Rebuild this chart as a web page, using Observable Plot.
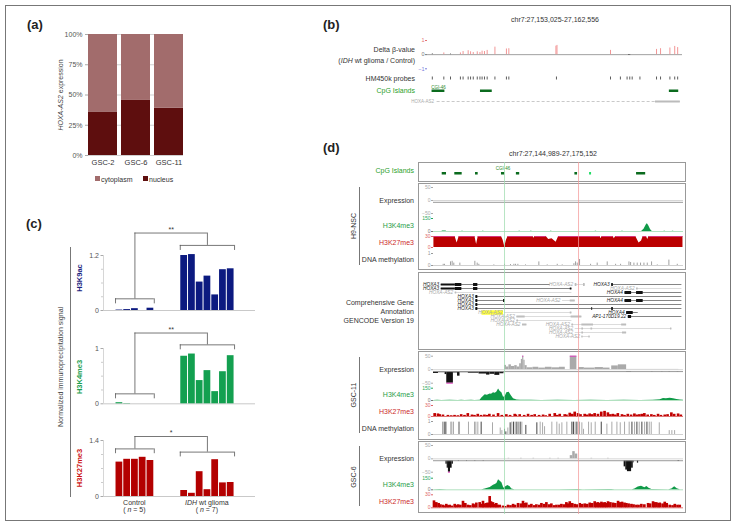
<!DOCTYPE html>
<html><head><meta charset="utf-8">
<script src="https://cdn.jsdelivr.net/npm/d3@7"></script>
<script src="https://cdn.jsdelivr.net/npm/@observablehq/plot@0.6"></script>
<style>
body{margin:0;background:#fff;font-family:"Liberation Sans",Arial,Helvetica,sans-serif;}
#fig{position:relative;width:737px;height:527px;overflow:hidden;background:#fff;}
</style></head><body><div id="fig"></div>
<script>
// ---------------- DATA ----------------
// (a) HOXA-AS2 expression fractions (%)
const aSamples = ["GSC-2", "GSC-6", "GSC-11"];
const aNucleus = [36, 45.5, 39];
const aCytoplasm = [64, 54.5, 61];
const aTicks = [0, 25, 50, 75, 100];

// (c) normalized immunoprecipitation signal
const h3k9acControl = [0.01, 0.02, 0.04, 0, 0.05];
const h3k9acIDH = [1.2, 1.22, 0.62, 0.75, 0.34, 0.89, 0.91];
const h3k4me3Control = [0.02, 0.005, 0, 0, 0];
const h3k4me3IDH = [0.86, 0.9, 0.42, 0.6, 0.22, 0.58, 0.87];
const h3k27me3Control = [0.86, 0.93, 0.93, 0.98, 0.9];
const h3k27me3IDH = [0.15, 0.08, 0.62, 0.17, 0.92, 0.34, 0.35];
// bracket levels [control, IDH, top, drop]
const h3k9acBrackets = [0.255, 1.42, 1.69, 0.11];
const h3k4me3Brackets = [0.18, 1.066, 1.28, 0.09];
const h3k27me3Brackets = [1.19, 1.11, 1.5, 0.12];
const cStars = ["**", "**", "*"];
const cGroups = ["Control", "IDH wt glioma"];

// (b) chr7:27,153,025-27,162,556 (positions in kb from window start)
const bSpan = 9.531;
const betaPos = [0.18,0.61,0.86,1.23,1.33,1.52,1.61,1.71,1.86,1.96,2.04,2.13,2.23,2.52,2.95,3.04,4.80,4.84,6.84,7.52,7.56,8.56,8.71,9.06,9.24,9.35];
const betaVal = [0.05,0.12,0.04,0.12,0.22,0.28,0.2,0.15,0.2,0.15,0.25,0.22,0.3,0.53,0.4,0.42,0.6,0.65,0.3,-0.05,-0.04,0.37,0.42,0.47,0.58,0.5];
const probePos = [0.18,0.61,0.86,1.23,1.33,1.52,1.61,1.71,1.86,1.96,2.04,2.13,2.23,2.52,2.95,3.04,4.82,6.84,7.21,7.46,7.56,7.65,7.94,8.56,8.71,9.06,9.24,9.35];
const bCpG = [[0.17, 0.65], [1.98, 2.42], [9.04, 9.39]];
const bGene = [0.36, 9.45];
const bGeneExon = [8.52, 9.45];

// (d) chr7:27,144,989-27,175,152 (positions in kb from window start)
const dSpan = 30.163;
const dMarkers = [8.57, 17.5];
const dCpG = [[1.05,1.57,0],[2.57,3.46,0],[5.07,5.39,0],[8.2,8.6,0],[10.0,10.4,0],[17.06,17.38,0],[18.83,19.07,1],[24.5,25.6,0]];
// H9-NSC
const h9K4 = [[0,0],[1.0,0],[1.1,6],[1.5,6],[1.6,0],[25.1,0],[25.4,25],[25.7,80],[25.8,90],[25.95,70],[26.2,20],[26.4,0],[30.16,0]];
const h9K4Ticks = [3.5,6.0,10.4,11.8,14.2,19.6,22.8,27.9,28.9];
const h9K27 = [[0.05,30],[2.6,30],[2.85,12],[3.1,30],[5.0,30],[5.2,8],[5.4,30],[8.2,30],[8.4,20],[8.6,2],[8.8,20],[9.0,30],[12.0,30],[12.1,25],[12.25,30],[13.6,30],[13.9,22],[14.3,24],[14.8,14],[15.1,30],[20.1,30],[20.2,24],[20.35,30],[21.7,30],[21.8,24],[22.0,30],[24.4,30],[24.8,12],[25.1,18],[25.3,30],[25.7,30],[25.85,22],[26.0,30],[30.1,30]];
const h9Meth = [[1.17,0.1],[1.33,0.1],[2.05,0.3],[2.25,0.35],[2.45,0.2],[3.18,0.2],[4.99,0.35],[5.27,0.2],[5.47,0.1],[7.28,0.05],[8.57,0.1],[9.29,0.08],[9.7,0.1],[9.9,0.1],[10.18,0.1],[11.1,0.05],[12.71,0.3],[13.72,0.05],[14.93,0.1],[15.53,0.05],[16.94,0.15],[17.14,0.3],[17.34,0.2],[17.62,0.5],[18.95,0.1],[19.75,0.2],[20.96,0.3],[21.97,0.1],[22.57,0.1],[23.58,0.3],[23.78,0.25],[24.18,0.2],[24.58,0.2],[24.98,0.2],[25.39,0.2],[25.79,0.2],[26.31,0.3],[27.0,0.05],[28.4,0.45],[29.41,0.1]];
// GSC-11
const gsc11ExpPos = [[8.57,8.8,16],[8.8,9.1,10],[9.1,9.4,18],[9.4,9.8,12],[9.8,10.1,15],[10.1,10.4,10],[10.4,10.6,22],[10.6,10.75,38],[10.75,10.9,50],[10.9,11.05,35],[11.05,11.3,15],[11.3,12.0,7],[12.0,12.7,9],[12.7,13.5,6],[13.5,14.3,9],[14.3,15.2,7],[15.2,15.9,9],[16.5,17.3,50],[17.5,18.2,8],[18.2,19.5,6],[19.5,20.5,8],[20.5,21.3,6],[21.5,22.3,14],[22.3,23.3,18],[23.3,29.6,1]];
const gsc11ExpNeg = [[0,0.6,-14],[0.6,1.4,-11],[1.4,1.6,-18],[1.6,2.4,-50],[2.4,2.9,-12],[2.9,3.2,-24],[3.2,4.2,-11],[4.2,5.5,-13],[5.5,6.4,-16],[6.4,6.8,-20],[6.8,7.4,-17],[7.4,8.0,-21],[8.0,8.5,-15],[23.3,23.9,-10],[26.3,26.5,-9],[27.5,27.7,-9],[28.4,28.6,-9],[29.4,29.6,-9]];
const gsc11K4 = [[0,1],[0.5,3],[1.0,1],[2.0,2],[3.0,1],[3.4,4],[3.8,1],[4.6,3],[5.0,1],[5.63,2],[5.83,30],[6.24,70],[6.5,65],[6.84,80],[7.0,75],[7.24,95],[7.45,88],[7.65,105],[7.85,140],[8.05,110],[8.25,95],[8.45,40],[8.65,50],[8.85,95],[9.13,100],[9.37,60],[9.65,20],[10.06,5],[10.5,2],[11.2,4],[11.8,2],[13.0,1],[15.0,2],[17.0,1],[19.0,2],[21.0,1],[23.0,2],[25.0,1],[26.5,3],[27.35,10],[27.75,25],[28.1,22],[28.55,28],[28.96,20],[29.37,12],[29.77,5],[30.16,2]];
const gsc11K27 = [[0.2,8],[0.6,7],[0.8,5],[1.2,4],[1.8,3],[2.2,2],[2.6,3],[3.0,2],[3.4,5],[3.8,3],[4.2,8],[4.7,4],[5.0,3],[5.4,6],[5.8,3],[6.2,4],[6.5,3],[6.8,6],[7.3,4],[7.85,8],[8.3,3],[8.85,5],[9.3,3],[9.86,6],[10.0,4],[10.46,5],[11.0,3],[11.47,6],[11.9,3],[12.27,5],[12.8,3],[13.28,4],[13.6,2],[14.08,6],[14.69,8],[15.0,3],[15.29,6],[15.89,5],[16.1,4],[16.5,9],[16.8,6],[17.1,12],[17.5,8],[17.8,5],[18.3,6],[18.6,4],[18.9,7],[19.2,5],[19.5,8],[19.9,6],[20.3,12],[20.7,14],[21.1,10],[21.4,5],[21.7,6],[22.0,4],[22.3,8],[22.8,5],[23.1,3],[23.5,6],[23.9,4],[24.3,7],[24.6,4],[24.9,5],[25.2,6],[25.5,8],[25.9,4],[26.35,5],[26.7,3],[27.15,6],[27.5,3],[27.96,4],[28.3,5],[28.76,10],[29.1,6],[29.57,7],[29.9,4]];
const gsc11Meth = [[1.09,0.95,0],[1.29,0.95,1],[1.49,0.95,1],[2.09,0.95,0],[2.21,0.95,0],[2.41,0.95,0],[3.02,0.95,0],[3.14,0.95,0],[4.22,0.95,0],[4.95,0.95,0],[5.11,0.95,0],[5.35,0.95,0],[5.75,0.95,1],[7.12,0.9,0],[8.05,0.5,0],[8.25,0.3,0],[8.57,0.4,1],[8.73,0.2,1],[8.97,0.5,0],[9.25,0.9,1],[9.45,0.95,0],[9.66,0.95,1],[9.86,0.95,0],[10.06,0.95,1],[10.26,0.95,0],[10.46,0.95,1],[10.66,0.95,0],[11.14,0.7,1],[12.47,0.9,1],[12.87,0.95,0],[13.16,0.9,0],[13.4,0.6,0],[14.28,0.95,0],[14.88,0.95,0],[15.17,0.8,0],[15.49,0.9,0],[16.09,0.95,0],[16.7,0.95,1],[16.9,0.95,1],[17.1,0.95,0],[17.3,0.95,1],[17.62,0.95,0],[17.9,0.9,0],[18.1,0.4,0],[18.71,0.95,0],[19.03,0.9,0],[19.51,0.95,0],[20.24,0.95,1],[20.92,0.8,0],[21.52,0.95,0],[22.13,0.95,0],[22.53,0.9,0],[23.05,0.95,0],[23.61,0.95,0],[23.94,0.95,1],[24.26,0.95,0],[24.54,0.95,1],[24.82,0.95,0],[25.14,0.95,1],[25.47,0.95,0],[25.75,0.95,1],[26.03,0.95,0],[26.27,0.95,0],[27.24,0.9,0],[28.44,0.3,0],[28.76,0.3,0],[29.09,0.3,0]];
// GSC-6
const gsc6ExpPos = [[9.0,9.2,2],[10.5,10.7,2],[12.0,12.2,2],[14.0,14.2,2],[15.0,15.2,2],[16.5,16.8,12],[16.8,17.1,27],[17.1,17.4,18],[19.0,19.2,2],[21.0,21.2,2]];
const gsc6ExpNeg = [[1.5,1.65,-20],[1.65,1.8,-35],[1.8,2.05,-50],[2.05,2.25,-35],[2.25,2.4,-20],[3.0,3.1,-10],[4.0,4.1,-10],[5.0,5.1,-10],[6.0,6.1,-10],[23.0,23.2,-30],[23.2,23.4,-42],[23.4,23.9,-48],[23.9,24.1,-35],[24.1,24.2,-15],[24.6,24.75,-16],[29.5,29.7,-10]];
const gsc6K4 = [[0,2],[0.8,3],[1.6,1],[3,2],[5,1],[5.83,2],[6.24,10],[6.84,30],[7.24,60],[7.45,70],[7.65,80],[7.85,130],[8.05,110],[8.25,90],[8.49,20],[8.73,40],[8.97,55],[9.25,40],[9.45,10],[9.8,2],[12,1],[15,1],[17.5,5],[18,1],[21.1,3],[21.5,5],[21.9,2],[24.0,2],[24.3,10],[24.7,35],[25.1,45],[25.5,25],[25.75,42],[26.0,20],[26.35,3],[28.4,2],[28.76,10],[29.1,38],[29.4,15],[29.77,2],[30.16,1]];
const gsc6K27 = [[0.12,16],[0.4,12],[0.68,10],[0.9,7],[1.21,6],[1.4,4],[1.61,8],[1.8,5],[2.01,6],[2.3,4],[2.62,8],[2.8,5],[3.02,7],[3.3,6],[3.62,15],[3.9,10],[4.22,6],[4.5,5],[4.83,9],[5.0,7],[5.23,11],[5.63,12],[5.9,8],[6.03,15],[6.2,9],[6.44,10],[6.6,11],[6.84,26],[7.0,14],[7.24,12],[7.45,8],[7.64,10],[7.8,6],[8.05,6],[8.45,4],[8.7,3],[9.05,6],[9.35,5],[9.66,8],[9.9,6],[10.26,10],[10.6,9],[10.86,15],[11.0,10],[11.26,11],[11.6,6],[11.87,8],[12.2,5],[12.47,7],[12.8,6],[13.08,10],[13.4,8],[13.68,12],[14.0,7],[14.28,9],[14.6,5],[14.89,6],[15.2,6],[15.49,8],[15.8,7],[16.09,12],[16.3,9],[16.5,14],[16.8,10],[17.1,8],[17.4,7],[17.7,10],[18.0,8],[18.31,9],[18.6,8],[18.91,11],[19.2,10],[19.51,14],[19.7,11],[19.91,12],[20.1,10],[20.32,13],[20.5,11],[20.72,12],[20.9,10],[21.12,14],[21.4,12],[21.72,11],[22.0,10],[22.33,15],[22.6,12],[22.81,13],[23.1,11],[23.33,10],[23.6,9],[23.94,8],[24.2,7],[24.54,6],[24.8,6],[25.14,8],[25.5,7],[25.95,10],[26.2,9],[26.55,14],[26.7,12],[26.95,12],[27.2,10],[27.36,11],[27.7,9],[27.96,13],[28.2,10],[28.56,6],[28.9,5],[29.17,8],[29.5,6],[29.77,6]];
// GENCODE transcripts: [row, start, end, name, grey]
const transcripts = [
 [0,0.93,14.08,"HOXA3",0],[0,17.1,18.3,"HOXA-AS2",1],[0,21.5,29.97,"HOXA3",0],
 [1,0.93,16.7,"HOXA3",0],[1,24.5,29.97,"HOXA-AS2",1],
 [2,2.62,16.7,"HOXA-AS2",1],[2,23.1,29.97,"HOXA4",0],
 [3,5.11,29.97,"HOXA3",0],
 [4,5.11,8.57,"HOXA3",0],[4,15.57,17.1,"HOXA-AS2",1],[4,23.1,29.97,"HOXA4",0],
 [5,5.11,29.97,"HOXA3",0],
 [6,5.11,29.97,"HOXA3",0],
 [7,8.57,16.7,"HOXA-AS2",1],[7,23.3,24.7,"HOXA4",0],
 [8,10.06,17.9,"HOXA-AS2",1],[8,23.5,29.97,"AP1-170D19.22",0],
 [9,10.06,16.7,"HOXA-AS2",1],
 [10,10.74,11.27,"HOXA-AS2",1],[10,16.7,23.3,"HOXA-AS2",1],
 [11,17.1,28.76,"HOXA-AS2",1],
 [12,17.1,23.3,"HOXA-AS2",1],
 [13,17.9,18.9,"HOXA-AS2",1]
];
// exons: [row, start, end, coding, grey]
const exons = [
 [0,0.93,2.62,0,0],[0,2.62,3.42,1,0],[0,4.83,5.35,1,0],[0,17.1,17.3,1,1],[0,18.1,18.3,1,1],[0,21.5,21.7,1,0],
 [1,0.93,2.62,0,0],[1,2.62,3.42,1,0],[1,4.83,5.35,1,0],[1,16.5,16.7,0,0],[1,24.5,24.7,0,1],
 [2,2.62,2.8,0,1],[2,23.1,23.9,1,0],[2,24.5,25.3,1,0],
 [3,5.11,5.35,1,0],
 [4,5.11,5.35,1,0],[4,8.45,8.65,1,0],[4,16.5,17.1,0,1],[4,23.1,23.9,1,0],[4,24.5,25.3,1,0],
 [5,5.11,5.35,1,0],
 [6,5.11,5.35,1,0],[6,19.1,19.2,1,0],[6,21.5,21.7,1,0],
 [7,16.5,16.7,0,1],[7,23.3,24.1,1,0],
 [8,10.06,11.06,0,1],[8,16.6,17.9,0,1],[8,23.5,23.9,1,0],
 [9,10.06,10.26,0,1],
 [10,10.74,11.27,0,1],[10,16.7,16.9,0,1],[10,17.9,19.3,0,1],[10,22.7,23.3,0,1],
 [11,17.9,18.1,0,1],[11,19.0,19.2,0,1],[11,28.6,28.76,0,1],
 [12,17.9,18.1,0,1],[12,22.8,23.3,0,1],
 [13,17.9,18.05,0,1],[13,18.75,18.9,0,1]
];
const geneHighlight = [[7, 5.85, 8.45]];

// ---------------- HELPERS ----------------
const FONT = '"Liberation Sans", Arial, Helvetica, sans-serif';
const fig = document.getElementById("fig");
const base = {style: {fontFamily: FONT, background: "transparent", overflow: "visible"}};
function put(node, x, y) {
  node.style.position = "absolute"; node.style.left = x + "px"; node.style.top = y + "px";
  node.style.maxWidth = "none"; fig.appendChild(node); return node;
}
function label(html, x, y, o = {}) {
  const d = document.createElement("div");
  d.innerHTML = html;
  const s = d.style;
  s.position = "absolute"; s.left = x + "px"; s.top = y + "px"; s.whiteSpace = "nowrap"; s.lineHeight = "1";
  s.fontSize = (o.size || 7) + "px"; s.color = o.color || "#333"; s.fontWeight = o.weight || "normal";
  const tx = o.anchor === "start" ? "0" : o.anchor === "middle" ? "-50%" : "-100%";
  s.transform = o.rotate ? `translate(-50%,-50%) rotate(${o.rotate}deg)` : `translate(${tx},-50%)`;
  fig.appendChild(d); return d;
}
function box(x1, y1, x2, y2, color = "#999", w = 1.3) {
  const d = document.createElement("div");
  Object.assign(d.style, {position: "absolute", left: x1 + "px", top: y1 + "px", width: (x2 - x1) + "px",
    height: (y2 - y1) + "px", border: `${w}px solid ${color}`, boxSizing: "border-box"});
  fig.appendChild(d);
}
function vline(x, y1, y2, color = "#666", w = 1) {
  const d = document.createElement("div");
  Object.assign(d.style, {position: "absolute", left: x + "px", top: y1 + "px", width: w + "px",
    height: (y2 - y1) + "px", background: color});
  fig.appendChild(d);
}
const numFmt = d3.format("~g");

box(5, 5, 731, 521, "#777", 1.5);

// ---------------- (a) ----------------
label("(a)", 27, 24, {anchor: "start", size: 13, weight: "bold", color: "#222"});
const aData = [];
aSamples.forEach((s, i) => {
  aData.push({sample: s, fraction: "nucleus", value: aNucleus[i]});
  aData.push({sample: s, fraction: "cytoplasm", value: aCytoplasm[i]});
});
put(Plot.plot({
  ...base, width: 150, height: 150, marginLeft: 48, marginRight: 7, marginTop: 9, marginBottom: 20,
  x: {domain: aSamples, paddingInner: 0.13, paddingOuter: 0, axis: null},
  y: {domain: [0, 100], axis: null},
  color: {domain: ["cytoplasm", "nucleus"], range: ["#a26c6c", "#5e0e0e"]},
  marks: [
    Plot.gridY(aTicks, {stroke: "#bbb", strokeOpacity: 1, strokeWidth: 0.7}),
    Plot.barY(aData, {x: "sample", y: "value", fill: "fraction"}),
    Plot.axisY(aTicks, {tickFormat: d => d + "%", tickSize: 3, tickPadding: 3, fontSize: 7, fill: "#555", stroke: "#aaa", label: null}),
    Plot.axisX({tickSize: 0, tickPadding: 4, fontSize: 7.5, fill: "#333", label: null})
  ]
}), 40, 25);
label("<i>HOXA-AS2</i> expression", 60, 95, {rotate: -90, size: 7, color: "#444"});
// legend
[["cytoplasm", "#a26c6c", 95], ["nucleus", "#5e0e0e", 143]].forEach(([n, c, x]) => {
  const sq = document.createElement("div");
  Object.assign(sq.style, {position: "absolute", left: x + "px", top: "176px", width: "4.5px", height: "4.5px", background: c});
  fig.appendChild(sq);
  label(n, x + 6, 178.5, {anchor: "start", size: 7, color: "#333"});
});

// ---------------- (c) ----------------
label("(c)", 26, 223, {anchor: "start", size: 13, weight: "bold", color: "#222"});
const C_CTRL = 1.55, C_IDH = 9.9, C_XMAX = 19.6;
function cPanel(top, height, yDomain, yRange, ctrl, idh, color, minor, br, stars) {
  const bars = [...ctrl.map((v, i) => ({x1: C_CTRL + i, v})), ...idh.map((v, j) => ({x1: C_IDH + j, v}))];
  const cx1 = C_CTRL, cx2 = C_CTRL + ctrl.length, ix1 = C_IDH, ix2 = C_IDH + idh.length;
  const cm = (cx1 + cx2) / 2, im = (ix1 + ix2) / 2;
  const [cb, ib, tb, dr] = br;
  const ln = {stroke: "#555", strokeWidth: 0.8};
  return put(Plot.plot({
    ...base, width: 177, height, marginLeft: 20, marginRight: 5, marginTop: 0, marginBottom: 0,
    x: {domain: [0, C_XMAX], axis: null},
    y: {domain: yDomain, range: yRange, axis: null},
    marks: [
      Plot.ruleY([0], {x1: 0, x2: C_XMAX, stroke: "#bbb", strokeWidth: 0.8}),
      Plot.ruleX([0], {y1: yDomain[0], y2: yDomain[1], stroke: "#ccc", strokeWidth: 0.8}),
      Plot.axisY(yDomain, {tickSize: 2.5, tickPadding: 2, fontSize: 7, fill: "#555", stroke: "#aaa", label: null, tickFormat: numFmt}),
      Plot.axisY(minor, {tickSize: 2, tickFormat: () => "", stroke: "#ccc", label: null}),
      Plot.rect(bars, {x1: "x1", x2: d => d.x1 + 1, y1: 0, y2: "v", fill: color, insetLeft: 0.5, insetRight: 0.5}),
      Plot.ruleY([cb], {x1: cx1, x2: cx2, ...ln}),
      Plot.ruleX([cx1, cx2], {y1: cb - dr, y2: cb, ...ln}),
      Plot.ruleY([ib], {x1: ix1, x2: ix2, ...ln}),
      Plot.ruleX([ix1, ix2], {y1: ib - dr, y2: ib, ...ln}),
      Plot.ruleY([tb], {x1: cm, x2: im, ...ln}),
      Plot.ruleX([cm], {y1: cb, y2: tb, ...ln}),
      Plot.ruleX([im], {y1: ib, y2: tb, ...ln}),
      Plot.text([stars], {x: (cm + im) / 2, y: tb, text: d => d, dy: -3.5, fontSize: 7, fill: "#333"})
    ]
  }), 83, top);
}
cPanel(220, 100, [0, 1.2], [90, 35], h3k9acControl, h3k9acIDH, "#0c1a80", [0.3, 0.6, 0.9], h3k9acBrackets, cStars[0]);
cPanel(320, 100, [0, 1], [83.3, 28], h3k4me3Control, h3k4me3IDH, "#13a050", [0.25, 0.5, 0.75], h3k4me3Brackets, cStars[1]);
cPanel(422, 90, [0, 1.4], [74, 18], h3k27me3Control, h3k27me3IDH, "#b30000", [0.35, 0.7, 1.05], h3k27me3Brackets, cStars[2]);
label("H3K9ac", 80, 278, {rotate: -90, size: 7.5, weight: "bold", color: "#1a237e"});
label("H3K4me3", 80, 377, {rotate: -90, size: 7.5, weight: "bold", color: "#1aa050"});
label("H3K27me3", 80, 468, {rotate: -90, size: 7.5, weight: "bold", color: "#cc1111"});
label("Normalized immunoprecipitation signal", 60, 367, {rotate: -90, size: 7, color: "#444"});
vline(70, 247, 497, "#777", 1);
label(cGroups[0], 134.4, 501.5, {anchor: "middle", size: 7, color: "#333"});
label("( <i>n</i> = 5)", 134.4, 508.5, {anchor: "middle", size: 7, color: "#333"});
label("<i>IDH</i> wt glioma", 206.9, 501.5, {anchor: "middle", size: 7, color: "#333"});
label("( <i>n</i> = 7)", 206.9, 508.5, {anchor: "middle", size: 7, color: "#333"});

// ---------------- (b) ----------------
label("(b)", 323, 24, {anchor: "start", size: 13, weight: "bold", color: "#222"});
label("chr7:27,153,025-27,162,556", 555, 19, {anchor: "middle", size: 7, color: "#333"});
function bPlot(top, height, yDomain, yRange, marks) {
  return put(Plot.plot({
    ...base, width: 285, height, marginLeft: 27, marginRight: 3, marginTop: 0, marginBottom: 0,
    x: {domain: [0, bSpan], axis: null}, y: {domain: yDomain, range: yRange, axis: null}, marks
  }), 400, top);
}
const betaData = betaPos.map((p, i) => ({p, v: betaVal[i]}));
bPlot(35, 38, [-1, 1], [33.3, 5], [
  Plot.ruleY([0], {stroke: "#777", strokeWidth: 0.7}),
  Plot.ruleX(betaData, {x: "p", y1: 0, y2: "v", stroke: d => d.v > 0.1 ? "#f08a8a" : "#333", strokeWidth: 0.9}),
  Plot.axisY([1], {tickSize: 2, tickPadding: 1, fontSize: 5.5, color: "#e57373", label: null}),
  Plot.axisY([0], {tickSize: 2, tickPadding: 1, fontSize: 5.5, color: "#777", label: null}),
  Plot.axisY([-1], {tickSize: 2, tickPadding: 1, fontSize: 5.5, color: "#7b7bdc", label: null})
]);
bPlot(75, 6, [0, 1], [6, 0], [
  Plot.ruleX(probePos, {y1: 0.25, y2: 0.75, stroke: "#333", strokeWidth: 0.8})
]);
bPlot(84, 10, [0, 1], [10, 0], [
  Plot.rect(bCpG, {x1: d => d[0], x2: d => d[1], y1: 0.2, y2: 0.45, fill: "#0b6b1e"}),
  Plot.text(bCpG.slice(0, 1), {x: d => (d[0] + d[1]) / 2, y: 0.72, text: () => "CGI-46", fontSize: 4.5, fill: "#2a8a2a"})
]);
bPlot(96, 10, [0, 1], [10, 0], [
  Plot.ruleY([0.5], {x1: bGene[0], x2: bGene[1], stroke: "#bbb", strokeWidth: 0.8, strokeDasharray: "3,2"}),
  Plot.ruleY([0.5], {x1: bGeneExon[0], x2: bGeneExon[1], stroke: "#bbb", strokeWidth: 2}),
  Plot.text([bGene], {x: d => d[0], y: 0.5, text: () => "HOXA-AS2", textAnchor: "end", dx: -3, fontSize: 4.5, fill: "#aaa"})
]);
label("Delta β-value", 415, 49);
label("(<i>IDH</i> wt glioma / Control)", 415, 60);
label("HM450k probes", 415, 78);
label("CpG Islands", 415, 90, {color: "#2aa02a"});

// ---------------- (d) ----------------
label("(d)", 323, 147, {anchor: "start", size: 13, weight: "bold", color: "#222"});
label("chr7:27,144,989-27,175,152", 553, 153, {anchor: "middle", size: 7, color: "#333"});
box(418, 162, 686, 182);
box(418, 183, 686, 270);
box(418, 272, 686, 349.5);
box(418, 351, 686, 439.5);
box(418, 441, 686, 512.5);
const EXP_NEG_BASE = -7;
function dPlot(top, height, yDomain, yRange, marks) {
  return put(Plot.plot({
    ...base, width: 268, height, marginLeft: 15, marginRight: 3, marginTop: 0, marginBottom: 0,
    x: {domain: [0, dSpan], axis: null}, y: {domain: yDomain, range: yRange, axis: null}, color: {type: "identity"},
    marks
  }), 418, top);
}
const dAxis = (ticks, color) => Plot.axisY(ticks, {tickSize: 2, tickPadding: 1, fontSize: 5, color, label: null});
function expMarks(pos, neg) {
  return [
    Plot.rect(pos, {x1: d => d[0], x2: d => d[1], y1: 0, y2: d => d[2], fill: "#aaa"}),
    Plot.rect(neg, {x1: d => d[0], x2: d => d[1], y1: EXP_NEG_BASE, y2: d => d[2], fill: "#111"}),
    Plot.ruleY([0], {stroke: "#ccc", strokeWidth: 0.8}),
    Plot.ruleY([EXP_NEG_BASE], {stroke: "#999", strokeWidth: 1}),
    Plot.ruleY(pos.filter(d => d[2] >= 50), {x1: d => d[0], x2: d => d[1], y: 50, stroke: "#e040c0", strokeWidth: 1}),
    Plot.ruleY(neg.filter(d => d[2] <= -50), {x1: d => d[0], x2: d => d[1], y: -50, stroke: "#e040c0", strokeWidth: 1}),
    dAxis([50, 0, -50], "#aaa")
  ];
}
function k4Marks(pts) {
  return [
    Plot.ruleY([0], {stroke: "#9ed9b0", strokeWidth: 0.8}),
    Plot.areaY(pts, {x: d => d[0], y: d => d[1], fill: "#0f9a48"}),
    Plot.axisY([150], {tickSize: 2, tickPadding: 1, fontSize: 5, color: "#2aa55a", label: null}),
    Plot.axisY([0], {tickSize: 2, tickPadding: 1, fontSize: 5, color: "#777", label: null})
  ];
}
function k27Marks(bars) {
  return [
    Plot.ruleY([0], {stroke: "#d65050", strokeWidth: 0.8}),
    Plot.rect(bars, {x1: d => d[0] - 0.16, x2: d => d[0] + 0.16, y1: 0, y2: d => d[1], fill: "#c00000"}),
    Plot.axisY([30], {tickSize: 2, tickPadding: 1, fontSize: 5, color: "#d66", label: null}),
    Plot.axisY([0], {tickSize: 2, tickPadding: 1, fontSize: 5, color: "#d66", label: null})
  ];
}
// CpG
dPlot(163, 18, [0, 1], [18, 0], [
  Plot.rect(dCpG, {x1: d => d[0], x2: d => d[1], y1: 0.36, y2: 0.5, fill: d => d[2] ? "#22dd66" : "#0b6b1e"}),
  Plot.text(dCpG.slice(3, 4), {x: d => (d[0] + d[1]) / 2, y: 0.7, text: () => "CGI-46", fontSize: 4.5, fill: "#2a8a2a"})
]);
label("CpG Islands", 414, 170, {color: "#2aa02a"});
// H9-NSC
dPlot(184, 30, [-50, 50], [29, 3], expMarks([], []));
dPlot(216, 16, [0, 150], [15, 2], [
  ...k4Marks(h9K4),
  Plot.rect(h9K4Ticks, {x1: d => d - 0.08, x2: d => d + 0.08, y1: 0, y2: 4, fill: "#3aaa66"})
]);
const h9K27Tops = h9K27.slice(1).map((d, i) => [h9K27[i][0], d[0], Math.min(h9K27[i][1], d[1])]).filter(d => d[2] >= 30);
dPlot(234, 15, [0, 30], [13, 2], [
  Plot.areaY(h9K27, {x: d => d[0], y: d => d[1], fill: "#bb0000"}),
  Plot.ruleY(h9K27Tops, {x1: d => d[0], x2: d => d[1], y: 30, stroke: "#e0409a", strokeWidth: 0.8}),
  Plot.axisY([30], {tickSize: 2, tickPadding: 1, fontSize: 5, color: "#d66", label: null}),
  Plot.axisY([0], {tickSize: 2, tickPadding: 1, fontSize: 5, color: "#d66", label: null})
]);
dPlot(251, 16, [0, 1], [14, 2], [
  Plot.ruleY([0], {stroke: "#bbb", strokeWidth: 0.7}),
  Plot.ruleX(h9Meth, {x: d => d[0], y1: 0, y2: d => d[1], stroke: "#888", strokeWidth: 0.8}),
  dAxis([1, 0], "#999")
]);
label("Expression", 414, 200);
label("H3K4me3", 414, 225, {color: "#2a9d4a"});
label("H3K27me3", 414, 242, {color: "#cc2b2b"});
label("DNA methylation", 414, 258.7);
label("H9-NSC", 353, 225.5, {rotate: -90, size: 7});
vline(359, 187, 265, "#777", 1);
// Gene annotation
put(Plot.plot({
  ...base, width: 268, height: 77, marginLeft: 15, marginRight: 3, marginTop: 0, marginBottom: 0,
  x: {domain: [0, dSpan], axis: null},
  y: {type: "point", domain: d3.range(14), range: [6, 70.5], padding: 0, axis: null},
  color: {type: "identity"},
  marks: [
    Plot.ruleY(geneHighlight, {x1: d => d[1], x2: d => d[2], y: d => d[0], stroke: "#ffff33", strokeWidth: 4.5}),
    Plot.ruleY(transcripts, {x1: d => d[1], x2: d => d[2], y: d => d[0], stroke: d => d[4] ? "#c4c4c4" : "#333", strokeWidth: 0.6}),
    Plot.ruleY(exons, {x1: d => d[1], x2: d => d[2], y: d => d[0], stroke: d => d[4] ? "#bdbdbd" : "#111", strokeWidth: d => d[3] ? 3 : 2}),
    Plot.text(transcripts, {x: d => d[1], y: d => d[0], text: d => d[3], textAnchor: "end", dx: -2, fontSize: 4.8,
      fontStyle: "italic", fill: d => d[4] ? "#a8a8a8" : "#222"})
  ]
}), 418, 272);
label("Comprehensive Gene", 414, 302);
label("Annotation", 414, 311);
label("GENCODE Version 19", 414, 320);
// GSC-11
dPlot(353, 33, [-50, 50], [29.7, 2.7], expMarks(gsc11ExpPos, gsc11ExpNeg));
dPlot(385, 17, [0, 150], [15, 2.7], k4Marks(gsc11K4));
dPlot(403, 15, [0, 30], [13, 2], k27Marks(gsc11K27));
dPlot(419, 17, [0, 1], [15, 2], [
  Plot.ruleY([0], {stroke: "#bbb", strokeWidth: 0.7}),
  Plot.ruleX(gsc11Meth, {x: d => d[0], y1: 0, y2: d => d[1], stroke: d => d[2] ? "#444" : "#aaa", strokeWidth: 1}),
  dAxis([1, 0], "#999")
]);
label("Expression", 414, 369);
label("H3K4me3", 414, 394, {color: "#2a9d4a"});
label("H3K27me3", 414, 411, {color: "#cc2b2b"});
label("DNA methylation", 414, 427.7);
label("GSC-11", 353, 395, {rotate: -90, size: 7});
vline(359, 357, 433, "#777", 1);
// GSC-6
dPlot(443, 31, [-50, 50], [28.7, 2], expMarks(gsc6ExpPos, gsc6ExpNeg));
dPlot(475, 17, [0, 150], [14.3, 2.7], k4Marks(gsc6K4));
dPlot(492, 18, [0, 30], [15.3, 2.3], k27Marks(gsc6K27));
label("Expression", 414, 458.3);
label("H3K4me3", 414, 484, {color: "#2a9d4a"});
label("H3K27me3", 414, 501, {color: "#cc2b2b"});
label("GSC-6", 353, 477, {rotate: -90, size: 7});
vline(359, 446, 506, "#777", 1);
// highlight lines
dPlot(162, 352, [0, 1], [352, 0], [
  Plot.ruleX(dMarkers, {x: d => d, stroke: (d, i) => i === 0 ? "#9fdcb0" : "#f39a9a", strokeWidth: 0.9, strokeOpacity: 0.85})
]);
</script></body></html>
